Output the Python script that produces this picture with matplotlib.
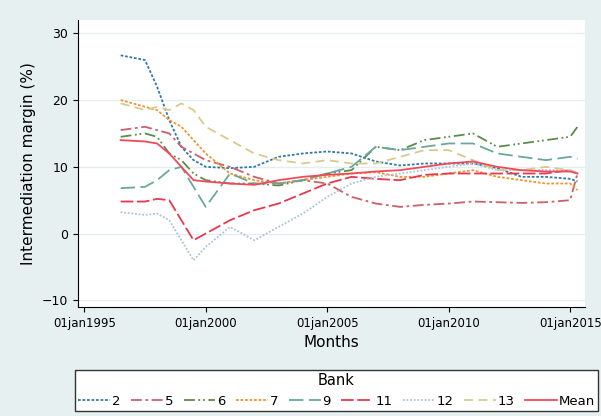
import matplotlib.pyplot as plt
import numpy as np

years = [1996.5, 1997.5, 1998, 1998.5, 1999, 1999.5, 2000, 2001, 2002, 2003, 2004, 2005,
         2006, 2007, 2008, 2009, 2010, 2011, 2012, 2013, 2014, 2015, 2015.3]
bank2 = [26.7, 26, 22, 17, 13, 11, 10, 9.8, 10, 11.5, 12, 12.3, 12, 10.8, 10.2, 10.5, 10.5, 10.5, 9.8, 8.5, 8.5, 8.2, 7.8]
bank5 = [15.5, 16, 15.5, 15, 13, 12, 11, 10, 8.5, 7.5, 8, 7.5, 5.5, 4.5, 4, 4.3, 4.5, 4.8, 4.7, 4.6, 4.7, 5, 9]
bank6 = [14.5, 15, 14.5, 12, 11, 9, 8, 7.5, 7.5, 7.2, 8, 9, 9.5, 13, 12.5, 14, 14.5, 15, 13, 13.5, 14, 14.5, 16]
bank7 = [20, 19, 18.5, 17, 16, 14, 12, 9, 8, 7.5, 8, 8.5, 9, 9.2, 8.5, 8.5, 9, 9.5, 8.5, 8, 7.5, 7.5, 6.5]
bank9 = [6.8, 7, 8, 9.5, 10, 7, 4, 9, 7.5, 7.5, 8, 9, 10, 13, 12.5, 13, 13.5, 13.5, 12, 11.5, 11, 11.5, 11.2]
bank11 = [4.8, 4.8, 5.2, 5, 2, -1, 0, 2, 3.5, 4.5, 6, 7.5, 8.5, 8.2, 8, 8.8, 9, 9, 9, 9, 9, 9.5, 9]
bank12 = [3.2, 2.8, 3, 2, -1, -4, -2, 1, -1, 1, 3, 5.5, 7.5, 8.5, 9, 9.5, 10, 10.5, 9.5, 9.5, 9.5, 9.5, 9]
bank13 = [19.5, 18.5, 19, 18.5, 19.5, 18.5, 16, 14, 12, 11, 10.5, 11, 10.5, 10.5, 11.5, 12.5, 12.5, 11, 9.5, 9.5, 10, 9.5, 9]
mean = [14, 13.8, 13.5, 12, 10, 8, 7.8, 7.5, 7.3, 8, 8.5, 8.8, 9, 9.3, 9.5, 10, 10.5, 10.8, 10, 9.5, 9.3, 9.3, 9]

series = [
    ("2", bank2, "#2f78a8", (0, (1.5, 1))),
    ("5", bank5, "#c9606b", (0, (6, 2, 1.5, 2))),
    ("6", bank6, "#5b8c4a", (0, (6, 2, 1, 1.5, 1, 2))),
    ("7", bank7, "#f5922f", (0, (1.5, 1))),
    ("9", bank9, "#6aa89b", (0, (8, 3))),
    ("11", bank11, "#e8374f", (0, (7, 2))),
    ("12", bank12, "#a9c4d4", (0, (1, 1))),
    ("13", bank13, "#d9c98f", (0, (5, 3))),
    ("Mean", mean, "#f04a5a", "-"),
]

bg = "#e6f0f1"
fig = plt.figure(figsize=(6.01, 4.16), dpi=100, facecolor=bg)
ax = fig.add_axes([0.13, 0.262, 0.843, 0.69])
ax.set_facecolor("white")
for lab, vals, col, ls in series:
    ax.plot(years, vals, color=col, ls=ls, lw=1.3, label=lab)

ax.set_xlim(1994.75, 2015.6)
ax.set_ylim(-11, 32)
ax.set_xticks([1995, 2000, 2005, 2010, 2015])
ax.set_xticklabels(["01jan1995", "01jan2000", "01jan2005", "01jan2010", "01jan2015"], fontsize=8.5)
ax.set_yticks([-10, 0, 10, 20, 30])
ax.set_yticklabels(["−10", "0", "10", "20", "30"], fontsize=9)
ax.grid(axis="y", color="#e3eef0", lw=1)
for s in ["top", "right"]:
    ax.spines[s].set_visible(False)
ax.set_ylabel("Intermediation margin (%)", fontsize=11)
ax.set_xlabel("Months", fontsize=11)

leg = fig.legend(loc="lower center", bbox_to_anchor=(0.56, 0.005), ncol=9, title="Bank",
                 fontsize=9.5, title_fontsize=10.5, frameon=True, fancybox=False,
                 handlelength=2.4, handletextpad=0.15, columnspacing=0.8, borderpad=0.25,
                 borderaxespad=0.2)
leg.get_frame().set_edgecolor("#333333")
leg.get_frame().set_facecolor("white")
leg.get_frame().set_alpha(1)
fig.savefig("out.png", facecolor=bg)
